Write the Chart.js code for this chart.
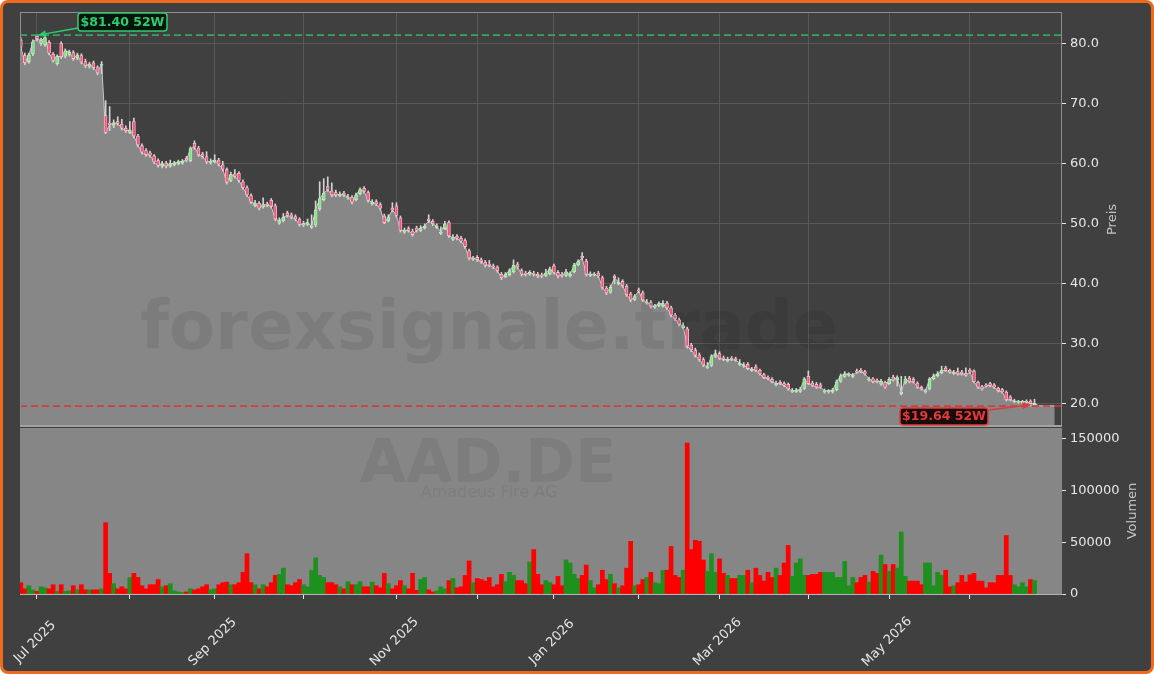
<!DOCTYPE html>
<html>
<head>
<meta charset="utf-8">
<script src="https://cdn.jsdelivr.net/npm/chart.js@4.4.1/dist/chart.umd.min.js"></script>
<style>
  html, body { margin: 0; padding: 0; background: #ffffff; }
  #frame { position: absolute; left: 0; top: 0; width: 1154px; height: 674px; box-sizing: border-box;
           border: 3px solid #ee6a1c; border-radius: 8px; background: #404040; }
  #pricebox { position: absolute; left: 0; top: 0; width: 1154px; height: 427px; }
  #volbox { position: absolute; left: 0; top: 427px; width: 1154px; height: 247px; }
</style>
</head>
<body>
<div id="frame"></div>
<div id="pricebox"><canvas id="price"></canvas></div>
<div id="volbox"><canvas id="vol"></canvas></div>
<script>
// month ticks (trading-day index) and their labels, only every 2nd month is labelled
const tickIdx = [4, 27, 48, 70, 93, 113, 132, 153, 173, 195, 215, 235];
const tickLabels = ["Jul 2025", "", "Sep 2025", "", "Nov 2025", "", "Jan 2026", "", "Mar 2026", "", "May 2026", ""];
const priceTicks = [20, 30, 40, 50, 60, 70, 80];
const volTicks = [0, 50000, 100000, 150000];

// daily OHLC
const opens = [
  80.6, 78.0, 77.0, 78.3, 81.2, 80.0, 79.8, 80.2, 78.2, 76.6,
  80.0, 77.9, 78.2, 78.5, 77.6, 78.0, 77.0, 76.2, 76.8, 76.0,
  76.4, 68.0, 66.8, 66.4, 67.0, 66.6, 65.9, 65.2, 67.0, 64.6,
  63.0, 62.2, 61.8, 61.3, 60.5, 59.6, 60.1, 59.6, 59.8, 60.0,
  60.1, 60.9, 60.5, 63.4, 62.6, 61.6, 61.2, 60.2, 60.3, 60.6,
  59.8, 59.0, 57.2, 58.3, 58.4, 57.0, 56.0, 54.7, 53.0, 53.4,
  52.8, 53.3, 53.9, 53.0, 50.1, 50.5, 51.8, 51.5, 51.2, 50.8,
  49.8, 49.9, 49.4, 49.8, 52.5, 54.0, 56.2, 55.5, 55.2, 54.7,
  55.1, 54.3, 54.4, 54.0, 55.0, 55.9, 55.2, 53.3, 53.7, 53.2,
  51.3, 50.5, 52.6, 53.0, 51.0, 48.6, 49.2, 48.8, 49.3, 48.9,
  49.3, 50.8, 50.4, 49.4, 48.4, 49.2, 50.2, 47.4, 47.9, 47.6,
  47.2, 45.5, 44.1, 44.4, 44.0, 43.6, 43.3, 43.0, 42.8, 41.6,
  41.2, 41.5, 42.0, 43.2, 42.2, 41.8, 41.6, 41.8, 41.6, 41.5,
  41.4, 41.7, 43.0, 41.9, 41.6, 41.4, 41.3, 42.0, 43.2, 44.6,
  43.8, 41.4, 41.5, 41.8, 41.0, 39.3, 38.6, 41.3, 40.0, 40.4,
  39.6, 38.3, 37.4, 39.0, 38.5, 36.8, 36.9, 36.1, 36.4, 36.3,
  36.8, 36.0, 34.8, 34.0, 32.7, 32.5, 29.8, 29.0, 28.2, 27.4,
  26.0, 26.4, 27.9, 28.4, 27.7, 27.2, 27.6, 27.5, 26.6, 26.3,
  26.6, 25.6, 26.2, 25.6, 24.9, 24.5, 24.1, 23.2, 23.6, 23.4,
  23.3, 22.0, 22.1, 22.1, 22.6, 24.6, 23.5, 23.3, 23.2, 22.0,
  22.0, 22.0, 22.4, 23.8, 24.6, 24.8, 24.6, 25.5, 25.6, 25.4,
  24.0, 24.2, 24.0, 23.3, 23.6, 23.4, 24.5, 24.0, 21.7, 23.5,
  24.3, 24.1, 23.5, 22.8, 22.0, 22.5, 24.2, 24.7, 25.2, 26.0,
  25.6, 25.1, 25.4, 25.3, 25.1, 25.6, 25.5, 23.6, 22.9, 23.2,
  23.4, 23.2, 22.6, 22.4, 22.0, 21.2, 20.4, 20.3, 20.2, 20.3,
  20.5, 19.9
];
const highs = [
  81.0, 78.4, 78.4, 80.6, 81.4, 80.9, 81.2, 80.5, 78.5, 78.1,
  80.3, 79.1, 78.9, 78.8, 78.4, 78.3, 77.4, 76.9, 77.1, 76.3,
  77.0, 70.5, 69.5, 67.3, 67.8, 67.4, 66.3, 67.0, 67.6, 64.9,
  63.3, 62.5, 62.1, 61.5, 60.8, 60.4, 60.4, 60.6, 60.4, 60.6,
  60.7, 61.2, 62.8, 63.8, 62.9, 61.9, 62.0, 60.8, 61.5, 60.9,
  60.4, 59.3, 58.6, 59.0, 58.7, 57.3, 56.3, 55.0, 53.9, 53.7,
  54.3, 53.6, 54.2, 53.3, 51.0, 51.7, 52.1, 51.8, 51.5, 51.0,
  50.4, 50.8, 51.5, 53.8, 57.0, 57.5, 57.8, 56.8, 55.6, 55.3,
  55.4, 54.9, 54.7, 55.1, 56.0, 56.2, 55.5, 54.0, 54.0, 53.5,
  51.6, 51.5, 53.5, 53.5, 51.3, 49.3, 49.5, 49.1, 49.6, 49.7,
  50.0, 51.5, 50.7, 50.0, 49.5, 50.4, 50.5, 48.2, 48.2, 47.9,
  47.5, 45.8, 44.6, 44.7, 44.3, 43.9, 43.9, 43.3, 43.0, 41.9,
  41.9, 42.5, 44.0, 43.6, 42.5, 42.1, 42.2, 42.1, 41.9, 41.8,
  42.4, 42.8, 43.3, 42.2, 41.9, 42.4, 42.0, 43.4, 44.0, 45.2,
  44.1, 42.0, 41.9, 42.1, 41.3, 39.6, 39.8, 41.5, 41.0, 40.7,
  39.9, 38.6, 38.2, 39.3, 38.8, 37.4, 37.2, 36.6, 37.0, 37.2,
  37.1, 36.3, 35.1, 34.3, 33.5, 32.8, 30.1, 29.3, 28.5, 27.7,
  26.9, 28.2, 29.0, 28.7, 28.0, 27.8, 27.9, 27.8, 27.4, 26.9,
  26.9, 26.1, 26.5, 25.8, 25.1, 24.7, 24.4, 23.8, 23.9, 23.7,
  23.5, 22.6, 22.6, 22.8, 24.4, 25.5, 23.8, 23.6, 23.5, 22.5,
  22.4, 22.6, 24.0, 25.0, 25.4, 25.2, 25.1, 25.8, 25.9, 25.6,
  24.5, 24.4, 24.2, 24.1, 23.8, 24.4, 24.8, 24.7, 24.6, 24.6,
  24.6, 24.4, 23.7, 23.0, 22.5, 24.4, 25.0, 25.4, 26.3, 26.3,
  25.8, 25.6, 26.0, 25.6, 26.0, 25.9, 25.7, 23.8, 23.1, 23.4,
  23.6, 23.4, 22.8, 22.6, 22.2, 21.4, 20.8, 20.6, 20.6, 20.7,
  20.7, 20.8
];
const lows = [
  79.0, 76.5, 76.7, 78.0, 80.4, 79.7, 79.5, 78.1, 76.9, 76.4,
  77.5, 77.6, 77.9, 77.2, 77.3, 76.6, 76.0, 75.9, 75.7, 74.8,
  75.0, 65.0, 65.5, 66.0, 66.4, 65.6, 65.2, 65.0, 64.3, 62.8,
  61.6, 61.2, 61.1, 60.0, 59.4, 59.3, 59.3, 59.4, 59.6, 59.8,
  59.9, 60.3, 60.3, 62.4, 61.2, 60.9, 60.0, 59.9, 60.1, 59.6,
  58.8, 56.6, 57.0, 57.6, 56.9, 55.7, 54.5, 53.3, 52.8, 52.3,
  52.6, 52.8, 52.6, 50.5, 49.9, 50.3, 51.1, 50.8, 50.5, 49.6,
  49.5, 49.7, 49.2, 49.5, 52.2, 53.8, 55.4, 54.5, 54.5, 54.5,
  54.5, 54.1, 53.3, 53.8, 54.8, 55.1, 53.6, 53.1, 53.0, 52.3,
  50.0, 50.3, 52.0, 51.1, 48.6, 48.4, 48.6, 47.9, 48.6, 48.7,
  49.1, 50.2, 49.7, 49.2, 48.2, 49.0, 47.7, 47.2, 47.3, 46.8,
  45.9, 44.0, 43.9, 43.7, 43.4, 42.8, 42.8, 42.5, 41.9, 40.7,
  41.0, 41.3, 41.8, 42.5, 41.3, 41.3, 41.4, 41.3, 41.0, 41.0,
  41.2, 41.5, 41.6, 41.0, 41.1, 41.2, 41.1, 41.8, 43.0, 44.0,
  41.3, 41.2, 41.3, 41.0, 39.1, 38.2, 38.4, 40.0, 39.8, 39.4,
  37.9, 37.0, 37.2, 38.5, 37.0, 36.6, 36.0, 35.9, 36.2, 36.1,
  35.7, 34.5, 33.9, 33.0, 32.5, 29.3, 28.7, 27.8, 27.1, 26.2,
  25.9, 26.2, 27.7, 27.4, 27.2, 27.0, 27.2, 27.1, 26.4, 26.1,
  25.7, 25.4, 25.4, 24.8, 24.2, 24.0, 23.5, 23.0, 23.2, 22.9,
  22.3, 21.9, 21.9, 21.9, 22.4, 23.2, 22.9, 22.6, 22.6, 21.8,
  21.8, 21.8, 22.2, 23.6, 24.4, 24.6, 24.4, 25.1, 25.2, 24.8,
  23.8, 23.5, 23.5, 23.1, 22.6, 23.2, 23.8, 23.0, 21.5, 23.3,
  23.5, 23.5, 22.6, 22.3, 21.8, 22.3, 24.0, 24.5, 25.0, 25.4,
  25.1, 24.9, 24.8, 24.8, 24.6, 25.1, 23.5, 22.6, 22.3, 22.8,
  22.9, 22.6, 22.0, 21.8, 20.5, 20.5, 20.2, 20.1, 20.0, 20.1,
  19.64, 19.8
];
const closes = [
  79.4, 76.8, 78.1, 80.3, 80.8, 80.5, 81.0, 78.4, 77.2, 77.9,
  77.8, 78.8, 78.6, 77.5, 78.1, 76.9, 76.3, 76.6, 76.0, 75.1,
  76.6, 65.2, 66.5, 66.8, 66.7, 65.9, 65.5, 65.6, 64.6, 63.1,
  61.9, 61.5, 61.4, 60.3, 59.7, 60.0, 59.6, 60.0, 60.1, 60.3,
  60.4, 60.6, 62.5, 62.8, 61.5, 61.2, 60.3, 60.4, 60.6, 59.9,
  59.1, 56.9, 58.2, 57.9, 57.2, 56.0, 54.8, 53.6, 53.4, 52.6,
  53.2, 53.1, 52.9, 50.8, 50.5, 51.1, 51.4, 51.1, 50.8, 49.9,
  50.0, 50.2, 49.6, 52.3, 54.2, 55.1, 55.7, 54.8, 54.8, 54.9,
  54.8, 54.5, 53.6, 54.8, 55.7, 55.4, 53.9, 53.6, 53.3, 52.6,
  50.2, 51.1, 52.3, 51.4, 48.9, 48.9, 48.9, 48.2, 48.9, 49.3,
  49.6, 50.5, 50.0, 49.6, 48.6, 50.0, 48.0, 47.7, 47.6, 47.1,
  46.2, 44.3, 44.3, 44.0, 43.7, 43.1, 43.1, 42.8, 42.2, 41.0,
  41.6, 42.2, 43.1, 42.8, 41.6, 41.6, 41.9, 41.6, 41.3, 41.3,
  41.8, 42.5, 41.9, 41.3, 41.4, 42.0, 41.6, 43.1, 43.7, 44.3,
  41.6, 41.6, 41.6, 41.3, 39.4, 38.5, 39.4, 41.0, 40.3, 39.7,
  38.2, 37.3, 37.9, 38.8, 37.3, 37.0, 36.3, 36.3, 36.7, 36.7,
  36.0, 34.8, 34.2, 33.3, 33.0, 29.6, 29.0, 28.1, 27.4, 26.5,
  26.2, 27.9, 28.4, 27.6, 27.4, 27.4, 27.4, 27.3, 26.8, 26.5,
  25.9, 25.8, 25.6, 25.0, 24.4, 24.2, 23.7, 23.4, 23.4, 23.1,
  22.5, 22.2, 22.3, 22.4, 24.2, 23.4, 23.1, 22.8, 22.8, 22.2,
  22.2, 22.3, 23.7, 24.7, 25.0, 25.0, 24.8, 25.3, 25.4, 25.0,
  24.2, 23.7, 23.7, 23.8, 22.8, 24.1, 24.0, 24.4, 22.0, 24.2,
  23.7, 23.7, 22.8, 22.5, 22.2, 24.1, 24.7, 25.0, 25.6, 25.6,
  25.3, 25.3, 25.0, 25.0, 24.8, 25.3, 23.7, 22.8, 22.5, 23.0,
  23.1, 22.8, 22.2, 22.0, 20.7, 20.7, 20.5, 20.4, 20.4, 20.4,
  20.1, 20.1
];
const volumes = [
  11000, 5000, 8000, 4000, 2500, 7000, 6000, 5000, 9000, 2500,
  9000, 2500, 3000, 8000, 4000, 9000, 4000, 4000, 4000, 4000,
  5000, 69000, 20000, 10000, 5000, 7000, 5000, 16000, 20000, 16000,
  8000, 5000, 9000, 9000, 14000, 7000, 8000, 10000, 3000, 2000,
  1500, 2000, 5000, 4000, 5000, 7000, 9000, 4000, 5000, 9000,
  11000, 11500, 9000, 9000, 11000, 21000, 39000, 11000, 9000, 5000,
  9000, 7000, 11000, 18000, 19000, 25000, 9000, 8000, 11000, 14000,
  9000, 7000, 23000, 35000, 18000, 16000, 11000, 11000, 9000, 7000,
  5000, 12000, 9000, 9000, 12000, 7000, 7000, 11500, 8000, 6000,
  20000, 10000, 5000, 8000, 13000, 8000, 5000, 20000, 3500, 14000,
  16000, 4000, 2000, 3000, 7000, 5000, 13000, 15000, 6000, 7000,
  18000, 32000, 11000, 15000, 14000, 12500, 16000, 7000, 9000, 19000,
  12000, 21000, 18000, 13000, 13000, 10000, 31000, 43000, 19000, 9000,
  13000, 11000, 9000, 17000, 8000, 33000, 30000, 19000, 15000, 18000,
  28000, 13000, 6000, 9000, 23000, 14000, 19000, 10000, 6000, 8000,
  25000, 51000, 8000, 9000, 14000, 16000, 21000, 11000, 10000, 23000,
  23000, 46000, 18000, 16000, 23000, 146000, 43000, 52000, 51000, 33000,
  22000, 39000, 21000, 34000, 20000, 18000, 15000, 15000, 18000, 18000,
  23000, 11000, 25000, 18000, 12500, 21000, 16000, 25000, 18000, 30000,
  47000, 17000, 30000, 34000, 18000, 18000, 19000, 19000, 21000, 21000,
  21000, 21000, 16000, 16000, 31500, 8000, 16000, 11000, 16000, 18000,
  11500, 22000, 20000, 37600, 28600, 22000, 28600, 25000, 60000, 17000,
  12500, 12500, 12500, 9000, 30000, 30000, 8000, 21000, 18000, 23000,
  7000, 8000, 11000, 18000, 11500, 18500, 20000, 12500, 12500, 6000,
  11000, 11000, 18000, 18000, 56600, 18000, 9000, 7000, 11000, 7000,
  14000, 13000
];
// the shaded close area runs on a little past the last candle
const fillTailIdx = [252, 256];
const fillTailVal = [19.7, 19.7];

const FONT = "DejaVu Sans";
const idx = closes.map((c, i) => i);
const isUp = closes.map((c, i) => c >= opens[i]);
const hi52 = Math.max(...highs);
const lo52 = Math.min(...lows);
const hiIdx = highs.indexOf(hi52);
const loIdx = lows.indexOf(lo52);

function arrow(ctx, x1, y1, x2, y2, color) {
  ctx.strokeStyle = color;
  ctx.fillStyle = color;
  ctx.lineWidth = 1.5;
  ctx.beginPath(); ctx.moveTo(x1, y1); ctx.lineTo(x2, y2); ctx.stroke();
  const a = Math.atan2(y2 - y1, x2 - x1), L = 8, W = 3.5;
  ctx.beginPath();
  ctx.moveTo(x2, y2);
  ctx.lineTo(x2 - L * Math.cos(a) + W * Math.sin(a), y2 - L * Math.sin(a) - W * Math.cos(a));
  ctx.lineTo(x2 - L * Math.cos(a) - W * Math.sin(a), y2 - L * Math.sin(a) + W * Math.cos(a));
  ctx.closePath(); ctx.fill();
}

function tag(ctx, text, x, y, w, h, fg, bg) {
  ctx.beginPath();
  ctx.roundRect(x, y, w, h, 3);
  ctx.fillStyle = bg; ctx.fill();
  ctx.lineWidth = 1.5; ctx.strokeStyle = fg; ctx.stroke();
  ctx.fillStyle = fg;
  ctx.font = "bold 12.5px " + FONT;
  ctx.textAlign = "center"; ctx.textBaseline = "middle";
  ctx.fillText(text, x + w / 2, y + h / 2 + 0.5);
}

const pricePanel = {
  id: "pricePanel",
  afterDatasetsDraw(chart) {
    const {ctx, chartArea: a, scales: {x, y}} = chart;
    ctx.save();
    // watermark
    ctx.font = "bold 67px " + FONT;
    ctx.fillStyle = "rgba(0,0,0,0.075)";
    ctx.textAlign = "center"; ctx.textBaseline = "alphabetic";
    ctx.fillText("forexsignale.trade", 489, 349);
    // 52 week high / low lines
    ctx.lineWidth = 1.8;
    ctx.setLineDash([7, 4]);
    ctx.strokeStyle = "rgba(55,175,95,0.9)";
    let yy = y.getPixelForValue(hi52);
    ctx.beginPath(); ctx.moveTo(a.left, yy); ctx.lineTo(a.right, yy); ctx.stroke();
    ctx.strokeStyle = "rgba(220,50,50,0.85)";
    yy = y.getPixelForValue(lo52);
    ctx.beginPath(); ctx.moveTo(a.left, yy); ctx.lineTo(a.right, yy); ctx.stroke();
    ctx.setLineDash([]);
    ctx.restore();
  },
  afterDraw(chart) {
    const {ctx, chartArea: a, scales: {x, y}} = chart;
    ctx.save();
    // frame
    ctx.strokeStyle = "#8e8e8e"; ctx.lineWidth = 1;
    ctx.strokeRect(a.left + 0.5, a.top + 0.5, a.right - a.left - 1, a.bottom - a.top);
    ctx.strokeStyle = "#a2a2a2"; ctx.lineWidth = 2;
    ctx.beginPath(); ctx.moveTo(a.left, a.bottom - 1); ctx.lineTo(a.right, a.bottom - 1); ctx.stroke();
    // axis title
    ctx.save();
    ctx.translate(1113, (a.top + a.bottom) / 2);
    ctx.rotate(-Math.PI / 2);
    ctx.fillStyle = "#c4c4c4";
    ctx.font = "13px " + FONT;
    ctx.textAlign = "center"; ctx.textBaseline = "middle";
    ctx.fillText("Preis", 0, 0);
    ctx.restore();
    // 52W tags
    const hx = x.getPixelForValue(hiIdx), hy = y.getPixelForValue(hi52);
    arrow(ctx, 78, 28, hx + 1, hy, "#2ecc71");
    tag(ctx, "$" + hi52.toFixed(2) + " 52W", 78, 13, 89, 18, "#2ecc71", "#07140c");
    const lx = x.getPixelForValue(loIdx), ly = y.getPixelForValue(lo52);
    arrow(ctx, 989, 410, lx, ly - 1.5, "#e03a3a");
    tag(ctx, "$" + lo52.toFixed(2) + " 52W", 900, 408, 88, 17, "#e03a3a", "#1a0b0b");
    ctx.restore();
  }
};

const volPanel = {
  id: "volPanel",
  beforeDraw(chart) {
    const {ctx, chartArea: a} = chart;
    ctx.save();
    ctx.fillStyle = "#868686";
    ctx.fillRect(a.left, a.top, a.right - a.left, a.bottom - a.top);
    ctx.restore();
  },
  afterDatasetsDraw(chart) {
    const ctx = chart.ctx;
    ctx.save();
    ctx.fillStyle = "rgba(0,0,0,0.065)";
    ctx.textAlign = "center"; ctx.textBaseline = "alphabetic";
    ctx.font = "bold 60px " + FONT;
    ctx.fillText("AAD.DE", 488, 55);
    ctx.font = "16px " + FONT;
    ctx.fillText("Amadeus Fire AG", 489, 70);
    ctx.restore();
  },
  afterDraw(chart) {
    const {ctx, chartArea: a, scales: {x}} = chart;
    ctx.save();
    ctx.fillStyle = "#e6e6e6";
    ctx.font = "13px " + FONT;
    ctx.textAlign = "center"; ctx.textBaseline = "middle";
    tickIdx.forEach((t, k) => {
      if (!tickLabels[k]) return;
      ctx.save();
      ctx.translate(x.getPixelForValue(t) - 2, 215);
      ctx.rotate(-Math.PI / 4);
      ctx.fillText(tickLabels[k], 0, 0);
      ctx.restore();
    });
    ctx.translate(1133, (a.top + a.bottom) / 2);
    ctx.rotate(-Math.PI / 2);
    ctx.fillStyle = "#c4c4c4";
    ctx.fillText("Volumen", 0, 0);
    ctx.restore();
  }
};

const xRange = {min: -0.2, max: 257.8};
const setMonthTicks = s => { s.ticks = tickIdx.map(v => ({value: v})); };

new Chart(document.getElementById("price"), {
  type: "bar",
  data: {
    datasets: [
      {
        type: "bar", order: 0, grouped: false,
        data: idx.map(i => ({x: i, y: [opens[i], closes[i]]})),
        backgroundColor: isUp.map(u => u ? "#86dd86" : "#ee5a7e"),
        borderColor: isUp.map(u => u ? "#c2f2c2" : "#ffc3d0"),
        borderWidth: 0.8, borderSkipped: false, barThickness: 3
      },
      {
        type: "bar", order: 1, grouped: false,
        data: idx.map(i => ({x: i, y: [lows[i], highs[i]]})),
        backgroundColor: "#d2d2d2", barThickness: 1
      },
      {
        type: "line", order: 2,
        data: idx.map(i => ({x: i, y: closes[i]})).concat(fillTailIdx.map((t, k) => ({x: t, y: fillTailVal[k]}))),
        borderColor: "#c6c6c6", borderWidth: 1, backgroundColor: "#878787",
        fill: "start", pointRadius: 0, tension: 0
      }
    ]
  },
  options: {
    responsive: true, maintainAspectRatio: false, animation: false, events: [],
    layout: {padding: {left: 20, top: 12, right: 0, bottom: 0}},
    plugins: {legend: {display: false}, tooltip: {enabled: false}},
    scales: {
      x: {
        type: "linear", min: xRange.min, max: xRange.max, offset: false,
        afterBuildTicks: setMonthTicks,
        afterFit: s => { s.height = 0; s.paddingLeft = 0; s.paddingRight = 0; },
        ticks: {display: false},
        grid: {color: "#585858", drawTicks: false, offset: false},
        border: {display: false}
      },
      y: {
        position: "right", min: 16.17, max: 85.25,
        afterBuildTicks: s => { s.ticks = priceTicks.map(v => ({value: v})); },
        afterFit: s => { s.width = 92; s.paddingTop = 0; s.paddingBottom = 0; },
        ticks: {color: "#e6e6e6", font: {family: FONT, size: 13}, padding: 4,
                callback: v => Number(v).toFixed(1)},
        grid: {color: "#585858", tickColor: "#e6e6e6", tickLength: 4},
        border: {display: false}
      }
    }
  },
  plugins: [pricePanel]
});

new Chart(document.getElementById("vol"), {
  type: "bar",
  data: {
    datasets: [{
      data: idx.map(i => ({x: i, y: volumes[i]})),
      backgroundColor: isUp.map(u => u ? "#1e901e" : "#ff0000"),
      barPercentage: 1, categoryPercentage: 1, borderWidth: 0
    }]
  },
  options: {
    responsive: true, maintainAspectRatio: false, animation: false, events: [],
    layout: {padding: {left: 20, top: 1, right: 0, bottom: 0}},
    plugins: {legend: {display: false}, tooltip: {enabled: false}},
    scales: {
      x: {
        type: "linear", min: xRange.min, max: xRange.max, offset: false,
        afterBuildTicks: setMonthTicks,
        afterFit: s => { s.height = 80; s.paddingLeft = 0; s.paddingRight = 0; },
        ticks: {display: false},
        grid: {drawOnChartArea: false, tickColor: "#e6e6e6", tickLength: 5, offset: false},
        border: {display: true, color: "#b4b4b4", width: 1}
      },
      y: {
        position: "right", min: 0, max: 160645,
        afterBuildTicks: s => { s.ticks = volTicks.map(v => ({value: v})); },
        afterFit: s => { s.width = 92; s.paddingTop = 0; s.paddingBottom = 0; },
        ticks: {color: "#e6e6e6", font: {family: FONT, size: 13}, padding: 4,
                callback: v => String(v)},
        grid: {drawOnChartArea: false, tickColor: "#e6e6e6", tickLength: 4},
        border: {display: false}
      }
    }
  },
  plugins: [volPanel]
});
</script>
</body>
</html>
